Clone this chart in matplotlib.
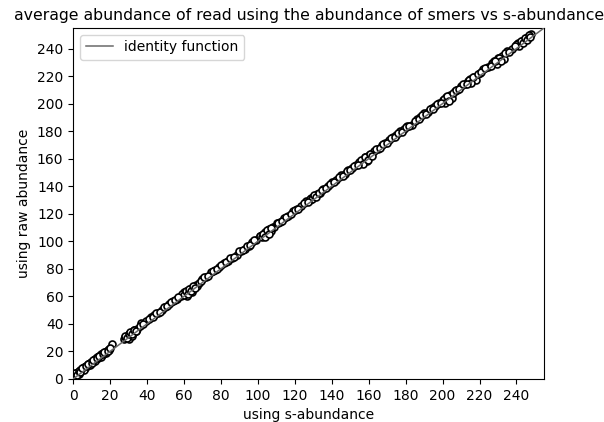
import numpy as np
import matplotlib
matplotlib.use('Agg')
import matplotlib.pyplot as plt

# s-abundance (x) vs raw abundance (y)
x_low = [0.2, 0.6, 1.0, 1.4, 1.8, 2.3, 2.7, 3.1, 3.6, 4.0, 4.4, 4.9, 5.3, 5.8, 6.2,
         6.7, 7.1, 7.6, 8.0, 8.5, 8.9, 9.4, 9.8, 10.3, 10.7, 11.2, 11.6, 12.1, 12.5,
         13.0, 13.4, 13.9, 14.3, 14.8, 15.2, 15.7, 16.1, 16.6, 17.0, 17.5, 17.9,
         18.4, 18.8, 19.3, 19.7, 3.0, 6.0, 9.0, 12.0, 15.0, 18.0, 21.0]
y_low = [2.5, 3.4, 3.0, 4.1, 3.6, 4.5, 4.9, 5.0, 6.2, 5.9, 6.8, 7.3, 7.0, 8.4, 8.1,
         9.0, 9.6, 9.2, 10.5, 10.9, 10.6, 11.8, 12.3, 12.0, 13.4, 13.1, 14.2, 14.8, 14.3,
         15.6, 15.2, 16.4, 16.9, 16.6, 17.8, 17.4, 18.5, 19.0, 18.7, 19.9, 19.5,
         20.6, 21.1, 20.8, 21.9, 3.8, 6.5, 9.9, 12.8, 15.9, 18.6, 25.5]

x_mid = [27.5, 28.2, 28.9, 29.6, 30.3, 31.0, 31.7, 32.4, 33.1, 33.8, 34.5, 30.0, 32.0,
         37, 39.5, 42, 44, 46, 48, 50, 52, 54, 56,
         58.5, 59.5, 60.3, 61.0, 61.8, 62.5, 63.3, 64.0, 64.8, 65.5, 66.3, 67.0, 68.0,
         61.5, 64.5,
         70, 72, 74.5, 77, 79, 81.5, 84, 86, 88.5, 91, 93, 95, 97]
y_mid = [29.2, 30.6, 30.8, 31.5, 32.9, 33.0, 34.1, 33.6, 35.2, 35.0, 36.4, 29.0, 31.2,
         40.5, 42.0, 44.8, 46.6, 48.1, 50.4, 52.0, 54.3, 56.9, 58.2,
         60.2, 61.8, 62.9, 62.1, 64.0, 63.5, 65.3, 64.6, 66.6, 66.0, 68.2, 67.4, 69.8,
         60.0, 63.0,
         72.8, 74.1, 77.5, 79.3, 81.0, 83.9, 85.8, 88.2, 90.1, 93.0, 94.7, 96.9, 99.4]

x_high = [99, 101, 102.5, 104, 105, 106, 107, 108, 109, 110.5, 112, 114, 116.5, 119,
          121, 123.5, 126, 128, 129, 130, 131, 132, 133.5, 135.5, 138, 140, 142.5, 145,
          147, 149, 151, 153, 155, 156.5, 158, 159, 160, 161.5, 163, 165, 167, 169,
          171, 173, 175, 177, 179, 181, 183.5, 186, 188, 190, 192, 194, 196, 198, 200,
          201, 202, 203, 204, 205, 206.5, 208, 210, 212, 214, 215, 216, 217, 218, 220,
          222, 224.5, 227, 229, 230, 231, 232, 233, 235, 237.5, 240, 241, 242, 243,
          244, 245, 246, 247, 248]
y_high = [101.2, 103.5, 104.2, 106.8, 106.1, 108.9, 107.6, 110.3, 110.0, 113.1, 114.2,
          116.9, 118.6, 121.8, 123.4, 125.7, 128.9, 129.8, 131.6, 132.2, 132.9, 134.5,
          135.1, 138.3, 140.2, 142.9, 144.6, 147.8, 149.1, 151.9, 153.4, 155.6, 157.8,
          158.2, 160.9, 158.3, 162.7, 163.4, 165.9, 167.2, 169.8, 171.3, 173.6, 175.9,
          177.1, 179.8, 181.5, 183.9, 184.6, 188.7, 190.2, 192.8, 194.1, 196.9, 198.3,
          200.6, 202.9, 202.1, 204.8, 204.0, 206.5, 204.2, 209.1, 210.0, 212.8, 214.3,
          216.7, 217.9, 218.2, 219.6, 217.4, 222.5, 224.8, 226.3, 229.6, 231.2, 232.8,
          233.1, 234.6, 232.5, 237.9, 239.4, 242.7, 243.9, 244.1, 245.8, 246.2, 247.5,
          248.1, 249.3, 250.2]

# extra reads inside the dark clusters
x_dense = [1, 2, 3, 4, 5, 7, 8, 10, 11, 13, 14, 16, 17, 19, 20,
           28, 29, 30, 31, 32, 33, 34,
           59, 60, 61, 62, 63, 64, 65, 66,
           101, 102, 103, 104, 105, 106, 107,
           128, 129.5, 130.5, 131.5, 133,
           156, 157, 158, 159.5, 160.5, 162,
           200.5, 201.5, 202.5, 203.5, 205.5,
           214.5, 215.5, 216.5,
           228, 229.5, 230.5, 231.5,
           240.5, 241.5, 242.5, 243.5, 244.5, 245.5, 246.5, 247.5]
y_dense = [4.2, 3.1, 6.0, 5.2, 8.1, 9.3, 10.8, 11.5, 14.0, 15.3, 16.8, 18.1, 19.9, 20.4, 22.6,
           31.0, 29.7, 32.4, 33.8, 32.5, 35.6, 34.7,
           61.9, 60.8, 63.7, 61.4, 65.2, 63.9, 67.5, 65.8,
           103.8, 102.9, 105.6, 103.1, 107.9, 105.4, 109.5,
           130.9, 130.8, 133.6, 132.0, 135.4,
           158.8, 156.3, 160.9, 158.7, 163.1, 161.9,
           203.6, 200.4, 205.3, 202.2, 208.0,
           217.2, 215.0, 219.1,
           230.9, 228.7, 233.4, 230.6,
           243.4, 242.0, 245.7, 244.1, 247.9, 246.3, 249.7, 248.4]

# reads in between the clusters
x_extra = [36, 38, 41, 43, 45, 47, 49, 51, 53, 55, 57,
           69, 71, 73, 76, 78, 80, 83, 85, 87, 90, 92, 94, 96, 98,
           111, 113, 115, 118, 120, 122, 125, 127,
           134.5, 137, 139, 141, 144, 146, 148, 150, 152, 154,
           164, 166, 168, 170, 172, 174, 176, 178, 180, 182,
           185, 187, 189, 191, 193, 195, 197, 199,
           207, 209, 211, 213,
           219, 221, 223, 226, 228.5,
           234, 236, 239]
y_extra = [38.6, 40.1, 43.7, 44.9, 47.8, 48.6, 51.9, 52.8, 55.6, 57.2, 59.7,
           71.4, 73.8, 74.9, 78.7, 80.2, 82.9, 84.6, 87.9, 88.8, 92.6, 93.7, 96.8, 97.5, 100.9,
           113.6, 114.8, 117.9, 119.6, 122.8, 123.5, 127.7, 128.6,
           136.9, 138.4, 141.8, 142.7, 146.6, 147.5, 150.8, 151.6, 154.9, 155.7,
           166.8, 167.4, 170.9, 171.6, 174.7, 175.5, 178.9, 179.4, 182.8, 183.5,
           187.7, 188.6, 191.9, 192.5, 195.8, 196.4, 199.7, 200.3,
           209.8, 210.5, 213.9, 214.4,
           221.7, 222.6, 225.9, 227.4, 231.0,
           236.6, 237.3, 241.8]

x = np.array(x_low + x_mid + x_high + x_dense + x_extra)
y = np.array(y_low + y_mid + y_high + y_dense + y_extra)
lim = 255

fig = plt.figure(figsize=(6.04, 4.22), dpi=100)
ax = fig.add_axes([0.121, 0.102, 0.78, 0.832])

ax.scatter(x, y, s=25, facecolors='white', edgecolors='black', linewidths=1.2, zorder=2)
ax.plot([0, lim], [0, lim], c='dimgray', lw=1.1, label='identity function', zorder=3)

ax.set_xlim(0, lim)
ax.set_ylim(0, lim)
ax.set_xticks(np.arange(0, 241, 20))
ax.set_yticks(np.arange(0, 241, 20))
ax.set_xlabel('using s-abundance')
ax.set_ylabel('using raw abundance')
ax.set_title('average abundance of read using the abundance of smers vs s-abundance',
             fontsize=11.3)
ax.legend(loc='upper left')

fig.savefig('out.png', dpi=100)
